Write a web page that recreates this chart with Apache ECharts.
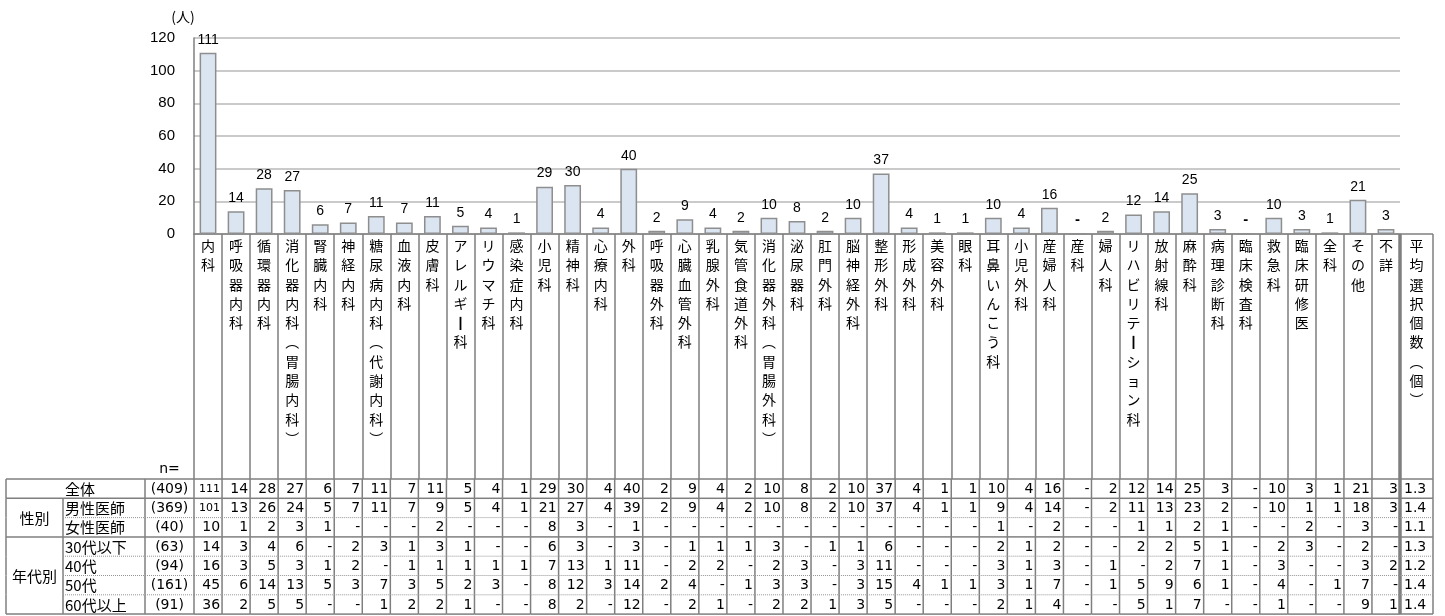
<!DOCTYPE html>
<html>
<head>
<meta charset="utf-8">
<script src="https://cdn.jsdelivr.net/npm/echarts@6/dist/echarts.min.js"></script>
<style>
  html, body { margin: 0; padding: 0; background: #fff; }
  #chart { width: 1445px; height: 616px; }
</style>
</head>
<body>
<div id="chart"></div>
<script>
// 診療科（複数回答）
const categories = [
  '内科', '呼吸器内科', '循環器内科', '消化器内科（胃腸内科）', '腎臓内科', '神経内科',
  '糖尿病内科（代謝内科）', '血液内科', '皮膚科', 'アレルギー科', 'リウマチ科', '感染症内科',
  '小児科', '精神科', '心療内科', '外科', '呼吸器外科', '心臓血管外科', '乳腺外科',
  '気管食道外科', '消化器外科（胃腸外科）', '泌尿器科', '肛門外科', '脳神経外科', '整形外科',
  '形成外科', '美容外科', '眼科', '耳鼻いんこう科', '小児外科', '産婦人科', '産科', '婦人科',
  'リハビリテーション科', '放射線科', '麻酔科', '病理診断科', '臨床検査科', '救急科',
  '臨床研修医', '全科', 'その他', '不詳'
];

// 人数（0 は「-」と表示）
const totalCounts  = [111, 14, 28, 27, 6, 7, 11, 7, 11, 5, 4, 1, 29, 30, 4, 40, 2, 9, 4, 2, 10, 8, 2, 10, 37, 4, 1, 1, 10, 4, 16, 0, 2, 12, 14, 25, 3, 0, 10, 3, 1, 21, 3];
const maleCounts   = [101, 13, 26, 24, 5, 7, 11, 7, 9, 5, 4, 1, 21, 27, 4, 39, 2, 9, 4, 2, 10, 8, 2, 10, 37, 4, 1, 1, 9, 4, 14, 0, 2, 11, 13, 23, 2, 0, 10, 1, 1, 18, 3];
const femaleCounts = [10, 1, 2, 3, 1, 0, 0, 0, 2, 0, 0, 0, 8, 3, 0, 1, 0, 0, 0, 0, 0, 0, 0, 0, 0, 0, 0, 0, 1, 0, 2, 0, 0, 1, 1, 2, 1, 0, 0, 2, 0, 3, 0];
const age30Counts  = [14, 3, 4, 6, 0, 2, 3, 1, 3, 1, 0, 0, 6, 3, 0, 3, 0, 1, 1, 1, 3, 0, 1, 1, 6, 0, 0, 0, 2, 1, 2, 0, 0, 2, 2, 5, 1, 0, 2, 3, 0, 2, 0];
const age40Counts  = [16, 3, 5, 3, 1, 2, 0, 1, 1, 1, 1, 1, 7, 13, 1, 11, 0, 2, 2, 0, 2, 3, 0, 3, 11, 0, 0, 0, 3, 1, 3, 0, 1, 0, 2, 7, 1, 0, 3, 0, 0, 3, 2];
const age50Counts  = [45, 6, 14, 13, 5, 3, 7, 3, 5, 2, 3, 0, 8, 12, 3, 14, 2, 4, 0, 1, 3, 3, 0, 3, 15, 4, 1, 1, 3, 1, 7, 0, 1, 5, 9, 6, 1, 0, 4, 0, 1, 7, 0];
const age60Counts  = [36, 2, 5, 5, 0, 0, 1, 2, 2, 1, 0, 0, 8, 2, 0, 12, 0, 2, 1, 0, 2, 2, 1, 3, 5, 0, 0, 0, 2, 1, 4, 0, 0, 5, 1, 7, 0, 0, 1, 0, 0, 9, 1];

const rowLabels = ['全体', '男性医師', '女性医師', '30代以下', '40代', '50代', '60代以上'];
const rowN = ['(409)', '(369)', '(40)', '(63)', '(94)', '(161)', '(91)'];
const avgChoices = ['1.3', '1.4', '1.1', '1.3', '1.2', '1.4', '1.4'];
const groupLabels = [
  { name: '性別', first: 1, last: 2 },
  { name: '年代別', first: 3, last: 6 }
];
const avgHeader = '平均選択個数（個）';
const yUnit = '(人)';

// レイアウト
const PLOT_LEFT = 194, PLOT_RIGHT = 1400, PLOT_TOP = 38, AXIS_Y = 234;
const TABLE_TOP = 479, ROW_H = 19.3;
const HEADER_H = TABLE_TOP - AXIS_Y;
const GROUP_X = 6, LABEL_X = 63, N_X = 145;
const AVG_W = 33;
const LINE = '#7f7f7f';
const DOT = '#959595';
const CJK = "'Noto Sans CJK JP', sans-serif";
const NUM = "'DejaVu Sans', sans-serif";

const tableRows = [totalCounts, maleCounts, femaleCounts, age30Counts, age40Counts, age50Counts, age60Counts];
const solidBelow = new Set([0, 2, 6]);

// 縦書き用：括弧は縦書き形、長音は太い縦棒
function toVertical(s) {
  const map = { '（': '︵', '）': '︶', 'ー': '{bar|丨}' };
  return s.split('').map(ch => map[ch] || ch).join('\n');
}
const verticalRich = {
  bar: { fontSize: 14, fontWeight: 'bold', lineHeight: 19.3, fontFamily: CJK, color: '#000' }
};

function lineEl(x1, y1, x2, y2, stroke, w, dash) {
  return { type: 'line', shape: { x1, y1, x2, y2 },
    style: { stroke, lineWidth: w, lineDash: dash || null }, silent: true };
}
function textEl(text, x, y, align, font, vAlign) {
  return { type: 'text', silent: true,
    style: { text, x, y, align, verticalAlign: vAlign || 'middle',
             textAlign: align, textVerticalAlign: vAlign || 'middle', font, fill: '#000' } };
}

const cellData = [];
tableRows.forEach((row, r) => row.forEach((v, c) => cellData.push([c, r, v])));
const rowData = rowLabels.map((_, r) => [0, r]);

function renderCell(params, api) {
  const c = api.value(0), r = api.value(1), v = api.value(2);
  const p = api.coord([c, r]);
  const s = api.size([1, 1]);
  const left = p[0] - s[0] / 2, right = p[0] + s[0] / 2;
  const top = p[1] - s[1] / 2, bottom = p[1] + s[1] / 2;
  const text = v === 0 ? '-' : String(v);
  const font = (text.length >= 3 ? '11px ' : '14px ') + NUM;
  const children = [
    textEl(text, right - 2, p[1] + 0.5, 'right', font),
    lineEl(right, top, right, bottom, LINE, 1.5)
  ];
  if (solidBelow.has(r)) children.push(lineEl(left, bottom, right, bottom, LINE, 1.5));
  else children.push(lineEl(left, bottom, right, bottom, DOT, 1, [1, 1]));
  if (r === 0) children.push(lineEl(left, top, right, top, LINE, 1.5));
  return { type: 'group', children };
}

function renderRowHead(params, api) {
  const r = api.value(1);
  const cs = params.coordSys;
  const p = api.coord([0, r]);
  const h = api.size([1, 1])[1];
  const top = p[1] - h / 2, bottom = p[1] + h / 2;
  const x0 = cs.x;
  const children = [];
  if (r === 0) {
    children.push(textEl(rowLabels[r], LABEL_X + 2, p[1] + 0.5, 'left', '15px ' + CJK));
    children.push(textEl('n=', (N_X + x0) / 2, top - 10, 'center', '14px ' + NUM));
    children.push(lineEl(GROUP_X, top, x0, top, LINE, 1.5));
  } else {
    children.push(textEl(rowLabels[r], LABEL_X + 2, p[1] + 0.5, 'left', '15px ' + CJK));
    children.push(lineEl(LABEL_X, top, LABEL_X, bottom, LINE, 1.5));
  }
  children.push(textEl(rowN[r], (N_X + x0) / 2, p[1] + 0.5, 'center', '14px ' + NUM));
  children.push(lineEl(GROUP_X, top, GROUP_X, bottom, LINE, 1.5));
  children.push(lineEl(N_X, top, N_X, bottom, LINE, 1.5));
  children.push(lineEl(x0, top, x0, bottom, LINE, 1.5));
  if (solidBelow.has(r)) children.push(lineEl(GROUP_X, bottom, x0, bottom, LINE, 1.5));
  else children.push(lineEl(LABEL_X, bottom, x0, bottom, DOT, 1, [1, 1]));
  groupLabels.forEach(g => {
    if (g.first === r) {
      const span = (g.last - g.first + 1) * h;
      children.push(textEl(g.name, (GROUP_X + LABEL_X) / 2, top + span / 2 + 0.5, 'center', '15px ' + CJK));
    }
  });
  return { type: 'group', children };
}

function renderAvg(params, api) {
  const r = api.value(1);
  const cs = params.coordSys;
  const p = api.coord([0, r]);
  const h = api.size([1, 1])[1];
  const top = p[1] - h / 2, bottom = p[1] + h / 2;
  const xl = cs.x + cs.width, xr = xl + AVG_W;
  const children = [
    textEl(avgChoices[r], xl + 4, p[1] + 0.5, 'left', '14px ' + NUM),
    lineEl(xr, top, xr, bottom, LINE, 1.5),
    lineEl(xl, top, xl, bottom, LINE, 3.5)
  ];
  if (solidBelow.has(r)) children.push(lineEl(xl, bottom, xr, bottom, LINE, 1.5));
  else children.push(lineEl(xl, bottom, xr, bottom, DOT, 1, [1, 1]));
  if (r === 0) {
    const hTop = top - HEADER_H;
    children.push(lineEl(xl, top, xr, top, LINE, 1.5));
    children.push(lineEl(xl, hTop, xr, hTop, LINE, 1.5));
    children.push(lineEl(xl, hTop, xl, top, LINE, 3.5));
    children.push(lineEl(xr, hTop, xr, top, LINE, 1.5));
    children.push({ type: 'text', silent: true,
      style: { text: toVertical(avgHeader), x: (xl + xr) / 2, y: hTop + 2,
               align: 'center', verticalAlign: 'top', textAlign: 'center', textVerticalAlign: 'top',
               font: '14px ' + CJK, lineHeight: 19.3, fill: '#000' } });
  }
  return { type: 'group', children };
}

const chart = echarts.init(document.getElementById('chart'));
chart.setOption({
  backgroundColor: '#fff',
  animation: false,
  grid: [
    { left: PLOT_LEFT, top: PLOT_TOP, width: PLOT_RIGHT - PLOT_LEFT, height: AXIS_Y - PLOT_TOP },
    { left: PLOT_LEFT, top: TABLE_TOP, width: PLOT_RIGHT - PLOT_LEFT, height: ROW_H * rowLabels.length }
  ],
  xAxis: [
    {
      type: 'category', gridIndex: 0, data: categories,
      axisLine: { lineStyle: { color: LINE, width: 1.5 } },
      axisTick: { show: true, interval: 0, length: HEADER_H, lineStyle: { color: LINE, width: 1.5 } },
      axisLabel: {
        interval: 0, margin: 2, color: '#000', fontFamily: CJK, fontSize: 14,
        lineHeight: 19.3, verticalAlign: 'top', rich: verticalRich,
        formatter: v => toVertical(v)
      }
    },
    { type: 'category', gridIndex: 1, data: categories, show: false }
  ],
  yAxis: [
    {
      type: 'value', gridIndex: 0, min: 0, max: 120, interval: 20,
      name: yUnit, nameLocation: 'end', nameGap: 14,
      nameTextStyle: { color: '#000', fontSize: 14, fontFamily: CJK, align: 'center', padding: [0, 22, 0, 0] },
      axisLine: { show: true, lineStyle: { color: LINE, width: 1.5 } },
      axisTick: { show: false },
      axisLabel: { margin: 19, color: '#000', fontSize: 15, fontFamily: "'Liberation Sans', Arial, sans-serif" },
      splitLine: { lineStyle: { color: '#b8b8b8', width: 1.5 } }
    },
    { type: 'category', gridIndex: 1, data: rowLabels, inverse: true, show: false }
  ],
  series: [
    {
      type: 'bar', xAxisIndex: 0, yAxisIndex: 0, data: totalCounts,
      barCategoryGap: '40%',
      itemStyle: { color: '#dbe5f1', borderColor: '#8e8e8e', borderWidth: 1.5 },
      label: {
        show: true, position: 'top', distance: 6, color: '#000', fontSize: 14,
        fontFamily: "'Liberation Sans', Arial, sans-serif",
        formatter: p => p.value === 0 ? '{d|-}' : String(p.value),
        rich: { d: { fontWeight: 'bold', fontSize: 15, color: '#000' } }
      }
    },
    { type: 'custom', xAxisIndex: 1, yAxisIndex: 1, data: cellData, renderItem: renderCell, clip: false, silent: true },
    { type: 'custom', xAxisIndex: 1, yAxisIndex: 1, data: rowData, renderItem: renderRowHead, clip: false, silent: true },
    { type: 'custom', xAxisIndex: 1, yAxisIndex: 1, data: rowData, renderItem: renderAvg, clip: false, silent: true }
  ]
});
</script>
</body>
</html>
